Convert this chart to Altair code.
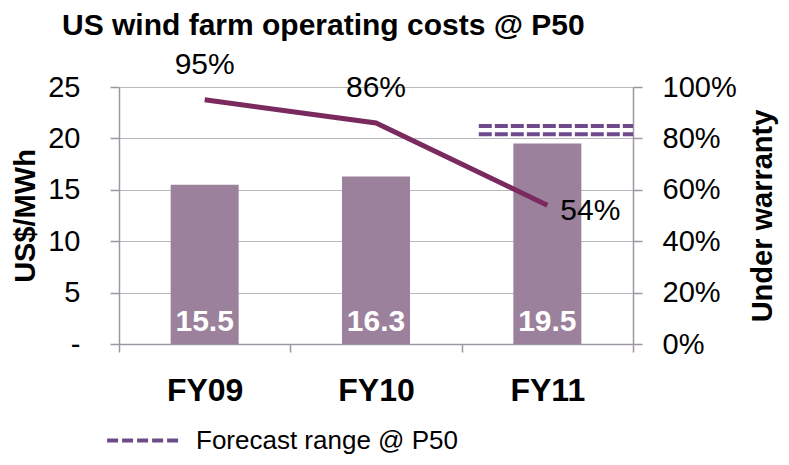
import altair as alt
import pandas as pd

years = ["FY09", "FY10", "FY11"]
costs = [15.5, 16.3, 19.5]
warranty = [95, 86, 54]
forecast_low = 20.4
forecast_high = 21.2

df = pd.DataFrame({"year": years, "cost": costs, "warranty": warranty,
                   "wlabel": [f"{w}%" for w in warranty],
                   "clabel": [f"{c:.1f}" for c in costs]})
fc = pd.DataFrame({"year": ["FY11", "FY11"], "v": [forecast_low, forecast_high],
                   "series": ["Forecast range @ P50"] * 2})

FONT = "Liberation Sans"
BAR = "#9B819B"
LINE = "#7A2A5E"
DASH = "#6E4A8A"
AX = "#9E97A3"
GRID = "#B8B8B8"

xenc = alt.X("year:N", sort=years, title=None,
             scale=alt.Scale(paddingInner=0, paddingOuter=0),
             axis=alt.Axis(tickBand="extent", labelAngle=0, labelFontSize=32,
                           labelFontWeight="bold", labelFont=FONT, labelColor="black",
                           tickSize=8, labelPadding=23, domainColor=AX, tickColor=AX,
                           domainWidth=1.5, tickWidth=1.5))

yscale = alt.Scale(domain=[0, 25], nice=False)

bars = alt.Chart(df).mark_bar(width=68, color=BAR).encode(
    x=xenc,
    y=alt.Y("cost:Q", scale=yscale, title="US$/MWh",
            axis=alt.Axis(values=[0, 5, 10, 15, 20, 25], grid=True, gridColor=GRID,
                          gridWidth=1,
                          labelExpr="datum.value == 0 ? '-' : datum.label",
                          labelFontSize=29, labelFont=FONT, labelColor="black",
                          tickSize=9, labelPadding=30, domainColor=AX, tickColor=AX,
                          domainWidth=1.5, tickWidth=1.5,
                          titleFontSize=29, titleFont=FONT, titleFontWeight="bold",
                          titleColor="black", titlePadding=7)),
)

bar_text = alt.Chart(df).mark_text(color="white", fontSize=30, fontWeight="bold",
                                   font=FONT, baseline="middle", dy=-22).encode(
    x=alt.X("year:N", sort=years),
    y=alt.Y("zero:Q", scale=yscale),
    text="clabel:N",
).transform_calculate(zero="0")

dash_rules = alt.Chart(fc).mark_rule(strokeWidth=4, strokeDash=[13, 3]).encode(
    x=alt.X("year:N", sort=years, bandPosition=0.1),
    x2=alt.value(514),
    y=alt.Y("v:Q", scale=yscale),
    color=alt.Color("series:N", scale=alt.Scale(range=[DASH]),
                    legend=alt.Legend(title=None, orient="none", legendX=-14, legendY=315,
                                      symbolType="stroke", symbolSize=5300,
                                      symbolStrokeWidth=4, symbolDash=[11, 4],
                                      symbolStrokeColor=DASH, padding=0,
                                      labelFontSize=26, labelFont=FONT, labelColor="black",
                                      labelOffset=14, labelLimit=500)),
)

left = alt.layer(bars, bar_text, dash_rules)

wscale = alt.Scale(domain=[0, 100], nice=False)

line = alt.Chart(df).mark_line(color=LINE, strokeWidth=5).encode(
    x=alt.X("year:N", sort=years),
    y=alt.Y("warranty:Q", scale=wscale, title="Under warranty",
            axis=alt.Axis(orient="right", values=[0, 20, 40, 60, 80, 100], grid=False,
                          labelExpr="datum.value + '%'",
                          labelFontSize=29, labelFont=FONT, labelColor="black",
                          tickSize=9, labelPadding=20, domainColor=AX, tickColor=AX,
                          domainWidth=1.5, tickWidth=1.5,
                          titleFontSize=29, titleFont=FONT, titleFontWeight="bold",
                          titleColor="black", titlePadding=12,
                          titleAngle=270, titleBaseline="top")),
)

wtext_above = alt.Chart(df).transform_filter(alt.datum.year != "FY11").mark_text(
    fontSize=30, font=FONT, color="black", baseline="middle", dy=-35).encode(
    x=alt.X("year:N", sort=years),
    y=alt.Y("warranty:Q", scale=wscale),
    text="wlabel:N",
)
wtext_right = alt.Chart(df).transform_filter(alt.datum.year == "FY11").mark_text(
    fontSize=30, font=FONT, color="black", baseline="middle", dx=43, dy=6).encode(
    x=alt.X("year:N", sort=years),
    y=alt.Y("warranty:Q", scale=wscale),
    text="wlabel:N",
)

right = alt.layer(line, wtext_above, wtext_right)

chart = alt.layer(left, right).resolve_scale(y="independent").properties(
    width=514, height=257,
    autosize=alt.AutoSizeParams(type="none"),
    padding={"left": 111, "top": 79, "right": 148, "bottom": 110},
    title=alt.TitleParams("US wind farm operating costs @ P50", anchor="start",
                          frame="group",
                          fontSize=30, font=FONT, fontWeight="bold", color="black",
                          dx=-57, offset=9),
).configure_view(stroke=None)

chart.save("out.html", embed_options={"renderer": "svg", "actions": False})
